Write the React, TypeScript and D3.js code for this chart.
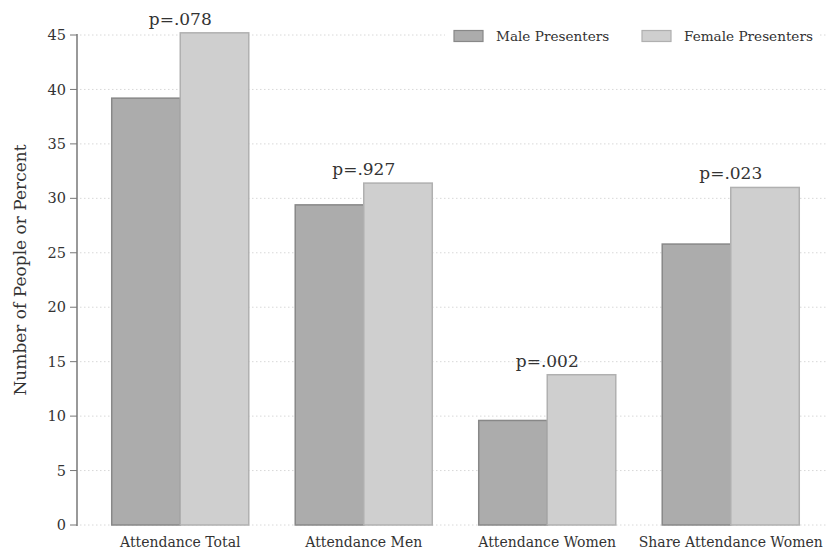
import React from "react";
import * as d3 from "d3";

const categories = ["Attendance Total", "Attendance Men", "Attendance Women", "Share Attendance Women"];
const seriesNames = ["Male Presenters", "Female Presenters"];
const maleValues = [39.2, 29.4, 9.6, 25.8];
const femaleValues = [45.2, 31.4, 13.8, 31.0];
const pLabels = ["p=.078", "p=.927", "p=.002", "p=.023"];
const yTicks = [0, 5, 10, 15, 20, 25, 30, 35, 40, 45];

const W = 827;
const H = 552;
const FONT = "'DejaVu Serif', 'Liberation Serif', serif";
const fills = ["#acacac", "#cfcfcf"];
const strokes = ["#888888", "#b0b0b0"];

export default function App() {
  const y = d3.scaleLinear().domain([0, 45]).range([525, 35]);
  const x = d3.scaleBand<string>().domain(categories).range([88.5, 822.5]).paddingInner(0).paddingOuter(0);
  const inner = d3
    .scaleBand<string>()
    .domain(seriesNames)
    .range([0, x.bandwidth()])
    .paddingOuter(0.339)
    .paddingInner(0);
  const series = [maleValues, femaleValues];

  return (
    <svg width={W} height={H} style={{ position: "absolute", left: 0, top: 0, background: "#fff" }} fontFamily={FONT}>
      <rect x={0} y={0} width={W} height={H} fill="#fff" />
      {/* grid */}
      {yTicks.map((t) => (
        <line key={"g" + t} x1={80} x2={827} y1={y(t)} y2={y(t)} stroke="#d8d8d8" strokeWidth={1} strokeDasharray="1.5,2.5" />
      ))}
      {/* bars */}
      {categories.map((c, i) =>
        seriesNames.map((s, j) => {
          const v = series[j][i];
          return (
            <rect
              key={c + s}
              x={(x(c) as number) + (inner(s) as number)}
              y={y(v)}
              width={inner.bandwidth()}
              height={y(0) - y(v)}
              fill={fills[j]}
              stroke={strokes[j]}
              strokeWidth={1.5}
            />
          );
        })
      )}
      {/* p labels */}
      {categories.map((c, i) => (
        <text
          key={"p" + c}
          x={(x(c) as number) + x.bandwidth() / 2}
          y={y(Math.max(maleValues[i], femaleValues[i])) - 8}
          textAnchor="middle"
          fontSize={17}
          fill="#333"
        >
          {pLabels[i]}
        </text>
      ))}
      {/* y axis */}
      <line x1={77} x2={77} y1={y(45) - 1} y2={y(0) + 1} stroke="#777" strokeWidth={1.5} />
      {yTicks.map((t) => (
        <g key={"t" + t}>
          <line x1={70} x2={77} y1={y(t)} y2={y(t)} stroke="#777" strokeWidth={1} />
          <text x={66} y={y(t)} dy="0.35em" textAnchor="end" fontSize={14.5} fill="#333">
            {t}
          </text>
        </g>
      ))}
      {/* x labels */}
      {categories.map((c) => (
        <text key={"x" + c} x={(x(c) as number) + x.bandwidth() / 2} y={547} textAnchor="middle" fontSize={14} fill="#333">
          {c}
        </text>
      ))}
      {/* y title */}
      <text transform={`translate(26,${270}) rotate(-90)`} textAnchor="middle" fontSize={17} fill="#333">
        Number of People or Percent
      </text>
      {/* legend */}
      <rect x={445} y={24} width={375} height={24} fill="#fff" />
      {seriesNames.map((s, j) => {
        const lx = [454, 642][j];
        return (
          <g key={"l" + s}>
            <rect x={lx} y={30.5} width={29} height={11} fill={fills[j]} stroke={strokes[j]} strokeWidth={1.2} />
            <text x={lx + 42} y={36} dy="0.35em" fontSize={13.6} fill="#333">
              {s}
            </text>
          </g>
        );
      })}
    </svg>
  );
}
